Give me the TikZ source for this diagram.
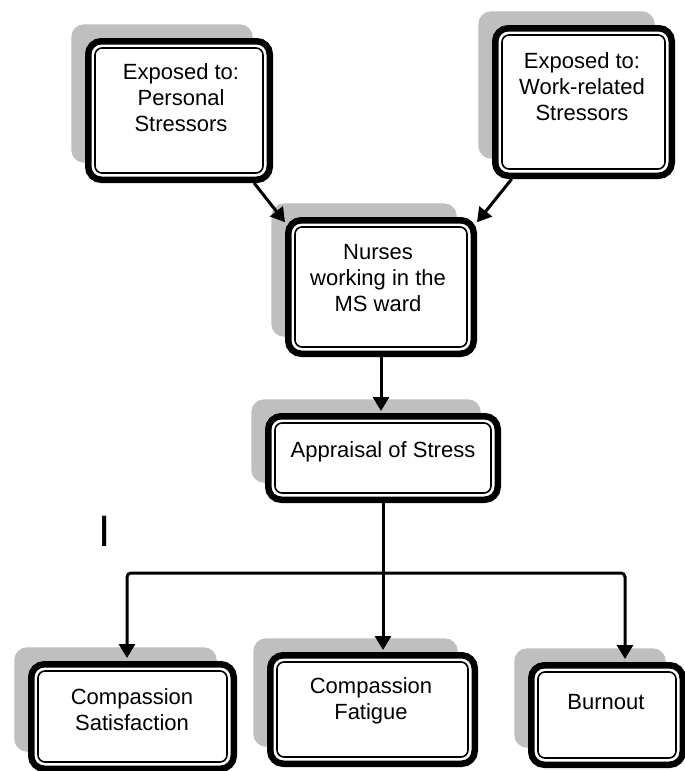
\documentclass[tikz,border=0pt]{standalone}
\usepackage{fontspec}
\setmainfont{Liberation Sans}
\usetikzlibrary{arrows.meta,shadows}

\begin{document}
\begin{tikzpicture}[x=1pt,y=-1pt,
  box/.style={draw,line width=6.5pt,fill=white,rounded corners=13pt,inner sep=0pt,
    drop shadow={shadow xshift=-17pt,shadow yshift=17pt,fill=black!25,opacity=1}},
  rim/.style={draw,line width=1.6pt,rounded corners=7pt},
  txt/.style={align=center,inner sep=0pt,font=\fontsize{22}{26}\selectfont},
  arr/.style={line width=3pt,-{Triangle[length=14pt,width=16pt]}},
  arrs/.style={line width=3pt,{Triangle[length=14pt,width=16pt]}-{Triangle[length=14pt,width=16pt]}}]

  \useasboundingbox (0,0) rectangle (685,771);

  % boxes
  \node[box,minimum width=181.5pt,minimum height=138.5pt] (personal) at (179,110.5) {};
  \node[box,minimum width=176.5pt,minimum height=147.5pt] (work) at (583.5,102) {};
  \node[box,minimum width=185.5pt,minimum height=133.5pt] (nurses) at (381,287) {};
  \node[box,minimum width=229.5pt,minimum height=83.5pt] (appraisal) at (383,458) {};
  \node[box,minimum width=202.5pt,minimum height=104.5pt] (satisf) at (132.5,716.5) {};
  \node[box,minimum width=204.5pt,minimum height=108.5pt] (fatigue) at (372.5,709.5) {};
  \node[box,minimum width=151.5pt,minimum height=99.5pt] (burnout) at (607,715) {};

  \foreach \b in {personal,work,nurses,appraisal,satisf,fatigue,burnout}
    \draw[rim] ([xshift=10pt,yshift=10pt]\b.south west) rectangle ([xshift=-10pt,yshift=-10pt]\b.north east);

  % labels
  \node[txt] (personal-t) at (181,98) {Exposed to:\\Personal\\Stressors};
  \node[txt] (work-t) at (582,87) {Exposed to:\\Work-related\\Stressors};
  \node[txt] (nurses-t) at (378,278) {Nurses\\working in the\\MS ward};
  \node[txt] (appraisal-t) at (383,452) {Appraisal of Stress};
  \node[txt] (satisf-t) at (132,710) {Compassion\\Satisfaction};
  \node[txt] (fatigue-t) at (371,701) {Compassion\\Fatigue};
  \node[txt] (burnout-t) at (606,702) {Burnout};
  \node[inner sep=0pt,font=\fontsize{44}{44}\selectfont] (mark) at (105,531) {I};

  % arrows
  \coordinate (bl) at (127,573);
  \coordinate (br) at (625,573);
  \draw[arr] (personal.-44) -- (nurses.146);
  \draw[arr] (work.-133) -- (nurses.34);
  \draw[arr,shorten >=2pt] (nurses.south) -- (nurses.south |- appraisal.north);
  \draw[arr,shorten >=2pt] (appraisal.south) -- (appraisal.south |- fatigue.north);
  \draw[arrs,rounded corners=4pt,shorten <=3pt,shorten >=3pt]
    (bl |- satisf.north) -- (bl) -- (br) -- (br |- burnout.north);
\end{tikzpicture}
\end{document}
